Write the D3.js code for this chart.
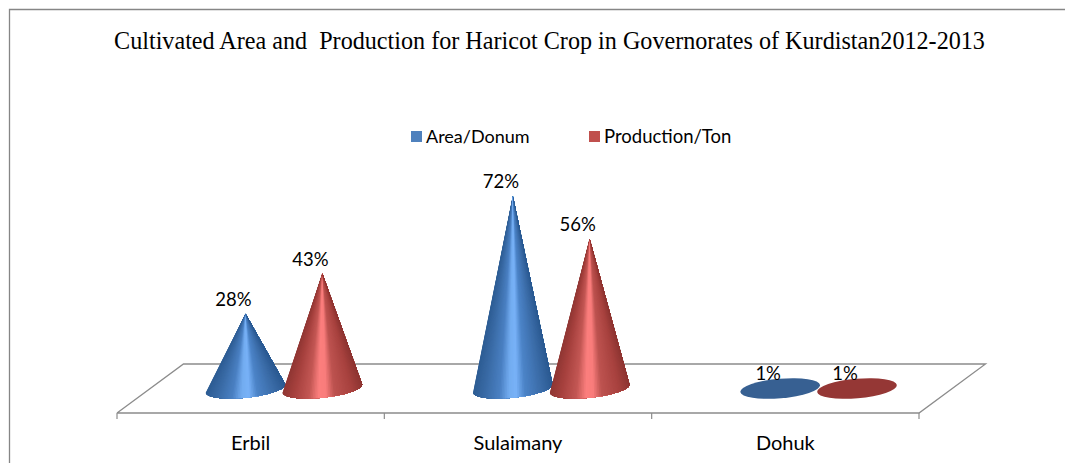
<!DOCTYPE html>
<html><head><meta charset="utf-8">
<script src="https://cdn.jsdelivr.net/npm/d3@7/dist/d3.min.js"></script>
<style>html,body{margin:0;padding:0;background:#fff}svg{display:block}</style>
</head><body><svg id="c" width="1065" height="463"></svg>
<script>
const categories = ["Erbil", "Sulaimany", "Dohuk"];
const seriesNames = ["Area/Donum", "Production/Ton"];
const areaValues = [28, 72, 1];
const productionValues = [43, 56, 1];
const titleText = "Cultivated Area and\u00A0 Production for Haricot Crop in Governorates of Kurdistan2012-2013";

const svg = d3.select("#c");
const skew = 66.5, depth = 49, front = 413;
const x0 = d3.scaleBand().domain(categories).range([117, 919]);
const x1 = d3.scaleBand().domain(seriesNames).range([0, x0.bandwidth()]).paddingInner(0).paddingOuter(0.74);
const y = d3.scaleLinear().domain([0, 72]).range([388.5, 196]);
const shadeStops = [0, .14, .36, .47, .56, .68, .86, 1];
const shades = [
  d3.scaleLinear().domain(shadeStops).range(["#2b5a92", "#3a6ba6", "#4c84c8", "#78b2f8", "#72acf0", "#4a80c2", "#3a6ba6", "#2e5d94"]),
  d3.scaleLinear().domain(shadeStops).range(["#8e3532", "#a8423f", "#bd5350", "#fa7d7c", "#fb7e7d", "#c35754", "#a8423f", "#913734"])
];
const fonts = {label: "Lato", title: "Liberation Serif"};

// frame: top and left edges only, the right and bottom run past the picture
svg.append("path").attr("fill", "none").attr("stroke", "#868686").attr("stroke-width", 1.3)
  .attr("d", d3.line()([[9.5, 463], [9.5, 9.5], [1065, 9.5]]));

// title
svg.append("text").attr("x", 549.5).attr("y", 49).attr("text-anchor", "middle")
  .attr("font-family", fonts.title).attr("font-size", 24.15).attr("fill", "#000").text(titleText);

// floor
const [L, R] = x0.range();
svg.append("path").attr("fill", "none").attr("stroke", "#8c8c8c").attr("stroke-width", 1.3)
  .attr("d", d3.line()([[L, front], [L + skew, front - depth], [R + skew, front - depth], [R, front], [L, front]]));

// category axis
const axis = d3.axisBottom(x0).tickSize(0).tickPadding(23);
const ag = svg.append("g").attr("transform", `translate(0,${front})`).call(axis);
ag.select(".domain").remove();
ag.selectAll("text").attr("font-family", fonts.label).attr("font-size", 20).attr("fill", "#000").attr("dy", "0.71em");
categories.map(c => x0(c)).concat([R]).forEach(tx => {
  svg.append("line").attr("x1", tx).attr("x2", tx).attr("y1", front).attr("y2", front + 6)
    .attr("stroke", "#8c8c8c").attr("stroke-width", 1.2);
});

// legend
const legendX = [411, 589];
const legendFont = [18, 18.5];
seriesNames.forEach((n, i) => {
  svg.append("rect").attr("x", legendX[i]).attr("y", 131).attr("width", 11).attr("height", 11)
    .attr("fill", i ? "#c0504d" : "#4f81bd");
  svg.append("text").attr("x", legendX[i] + 15).attr("y", 143)
    .attr("font-family", fonts.label).attr("font-size", legendFont[i]).attr("fill", "#000").text(n);
});

// cones: overlapping fans from the apex, painted left to right, so no seams show
const rx = 40, ry = 9.3, tilt = -6, slices = 70;
const t = tilt * Math.PI / 180;
const series = [areaValues, productionValues];
series.forEach((vals, s) => {
  categories.forEach((c, i) => {
    const v = vals[i];
    const cx = x0(c) + x1(seriesNames[s]) + x1.bandwidth() / 2 + skew / 2;
    const cy = y(0);
    const g = svg.append("g");
    if (v < 2) {
      g.append("ellipse").attr("cx", cx).attr("cy", cy).attr("rx", rx).attr("ry", ry + 0.5)
        .attr("transform", `rotate(-5 ${cx} ${cy})`)
        .attr("fill", s ? "#953735" : "#376092");
    } else {
      const pt = a => {
        const ex = rx * Math.cos(a), ey = ry * Math.sin(a);
        return [cx + ex * Math.cos(t) - ey * Math.sin(t), cy + ex * Math.sin(t) + ey * Math.cos(t)];
      };
      const angles = d3.range(slices + 1).map(k => Math.PI * (1 - k / slices));
      d3.range(slices).forEach(k => {
        const shade = shades[s]((1 - Math.cos((angles[k] + angles[k + 1]) / 2)) / 2);
        g.append("path").attr("fill", shade)
          .attr("d", d3.line()([[cx, y(v)]].concat(angles.slice(k).map(pt))) + "Z");
      });
    }
    g.append("text").attr("x", cx - 12).attr("y", y(v) - (v < 2 ? 6 : 8)).attr("text-anchor", "middle")
      .attr("font-family", fonts.label).attr("font-size", 18.5).attr("fill", "#000").text(v + "%");
  });
});
</script></body></html>
